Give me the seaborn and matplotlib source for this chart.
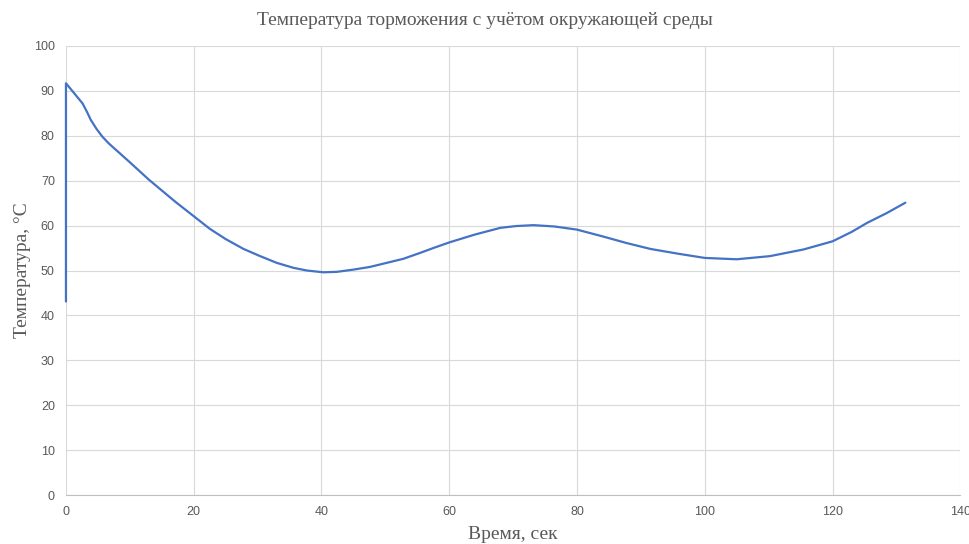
import matplotlib
matplotlib.use("Agg")
import matplotlib.pyplot as plt
import pandas as pd
import seaborn as sns

# time, s
t = [0, 0, 2.6, 3.3, 3.9, 4.8, 5.7, 6.7, 7.8, 10, 13, 16.2, 17.3, 20, 22.5,
     25, 27.8, 30.4, 33, 35.6, 37.7, 40.3, 42.4, 45, 47.6, 50.2, 52.8, 55.4,
     57.5, 60.1, 64, 68, 70.5, 73.2, 76.5, 80, 84, 87.8, 91.5, 96, 100, 105,
     110.2, 115.5, 120, 123, 125.4, 128.5, 131.4]
# temperature, C
temp = [43.1, 91.7, 87.2, 85.3, 83.5, 81.5, 79.8, 78.3, 76.9, 74.1, 70.2, 66.4,
        65.1, 62.1, 59.3, 57.0, 54.8, 53.2, 51.7, 50.6, 50.0, 49.6, 49.7, 50.2,
        50.8, 51.7, 52.6, 53.9, 55.0, 56.3, 58.0, 59.5, 59.9, 60.1, 59.8, 59.1,
        57.6, 56.1, 54.8, 53.7, 52.8, 52.5, 53.2, 54.7, 56.5, 58.6, 60.6, 62.8,
        65.1]

x_ticks = list(range(0, 141, 20))
y_ticks = list(range(0, 101, 10))

df = pd.DataFrame({"t": t, "temp": temp})

sns.set_style("whitegrid", {"grid.color": "#d9d9d9", "axes.edgecolor": "#d9d9d9"})
plt.rcParams["font.family"] = ["Liberation Sans", "DejaVu Sans"]

fig = plt.figure(figsize=(9.7, 5.44), dpi=100)
ax = fig.add_axes([0.068, 0.09, 0.922, 0.8255])

sns.lineplot(data=df, x="t", y="temp", sort=False, estimator=None,
             color="#4472C4", linewidth=1.6, ax=ax, clip_on=False,
             solid_joinstyle="round", zorder=3)

ax.set_xlim(0, 140)
ax.set_ylim(0, 100)
ax.set_xticks(x_ticks)
ax.set_yticks(y_ticks)
ax.tick_params(axis="both", length=0, labelsize=9, colors="#595959", pad=8)
for s in ["top", "right", "left"]:
    ax.spines[s].set_visible(False)
ax.spines["bottom"].set_color("#bfbfbf")
ax.grid(True, color="#d9d9d9", linewidth=0.8)

serif = ["Liberation Serif", "DejaVu Serif"]
ax.set_xlabel("Время, сек", family=serif, fontsize=14, color="#595959", labelpad=6)
ax.set_ylabel("Температура, °С", family=serif, fontsize=14, color="#595959", labelpad=2)
fig.suptitle("Температура торможения с учётом окружающей среды", family=serif,
             fontsize=14, color="#595959", y=0.978)

fig.savefig("out.png", dpi=100)
